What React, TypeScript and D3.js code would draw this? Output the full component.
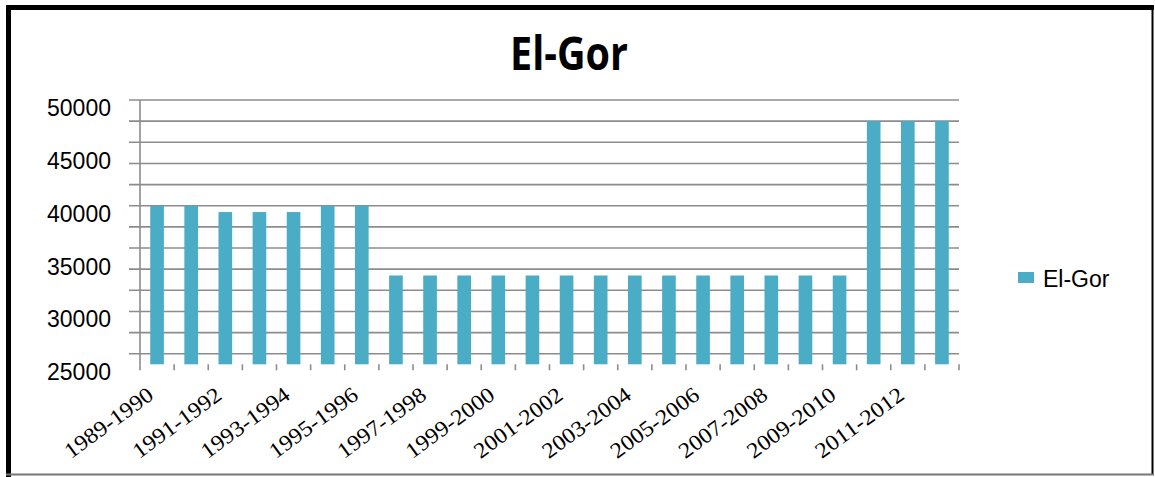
import React from 'react';
import * as d3 from 'd3';

const categories = [
  '1989-1990', '1990-1991', '1991-1992', '1992-1993', '1993-1994', '1994-1995',
  '1995-1996', '1996-1997', '1997-1998', '1998-1999', '1999-2000', '2000-2001',
  '2001-2002', '2002-2003', '2003-2004', '2004-2005', '2005-2006', '2006-2007',
  '2007-2008', '2008-2009', '2009-2010', '2010-2011', '2011-2012', '2012-2013',
];
const values = [
  40000, 40000, 39400, 39400, 39400, 40000, 40000,
  33400, 33400, 33400, 33400, 33400, 33400, 33400,
  33400, 33400, 33400, 33400, 33400, 33400, 33400,
  48000, 48000, 48000,
];
const yTickLabels = [25000, 30000, 35000, 40000, 45000, 50000];
const title = 'El-Gor';
const seriesName = 'El-Gor';

const BAR = '#4BACC6';
const GRID = '#8c8c8c';

export default function App() {
  const W = 1155;
  const H = 477;
  const left = 140;
  const right = 959;
  const top = 100;
  const bottom = 364.3;

  const x = d3.scaleBand<string>().domain(categories).range([left, right]).paddingInner(0.6).paddingOuter(0.3);
  const y = d3.scaleLinear().domain([25000, 50000]).range([bottom, top]);
  const grid = y.ticks(10);
  const step = x.step();
  const bw = x.bandwidth();

  return (
    <svg width={W} height={H} style={{ position: 'absolute', left: 0, top: 0, background: '#fff' }}>
      <rect x={0} y={0} width={W} height={H} fill="#fff" />
      {/* border */}
      <line x1={6} y1={7.5} x2={1154} y2={7.5} stroke="#000" strokeWidth={5} />
      <line x1={8.5} y1={5} x2={8.5} y2={477} stroke="#000" strokeWidth={5} />
      <line x1={1152.5} y1={5} x2={1152.5} y2={475} stroke="#000" strokeWidth={2} />
      <line x1={6} y1={474.5} x2={1154} y2={474.5} stroke="#777" strokeWidth={2} />

      {/* title */}
      <text x={569} y={70} textAnchor="middle" fontFamily="'Open Sans', 'Noto Sans', sans-serif" fontWeight="bold" fontSize={46} textLength={118} lengthAdjust="spacingAndGlyphs" fill="#000">{title}</text>

      {/* gridlines */}
      {grid.map((t) => (
        <line key={'g' + t} x1={left - 11} x2={right} y1={y(t)} y2={y(t)} stroke={GRID} strokeWidth={1.6} />
      ))}
      {/* y axis */}
      <line x1={left} x2={left} y1={top} y2={bottom} stroke={GRID} strokeWidth={1.6} />
      {/* x axis ticks */}
      {d3.range(categories.length + 1).map((i) => (
        <line key={'xt' + i} x1={left + i * step} x2={left + i * step} y1={bottom} y2={bottom + 6} stroke={GRID} strokeWidth={1.6} />
      ))}

      {/* bars */}
      {categories.map((c, i) => (
        <rect key={c} x={x(c)} y={y(values[i])} width={bw} height={bottom - y(values[i])} fill={BAR} />
      ))}

      {/* y labels */}
      {yTickLabels.map((t) => (
        <text key={'yl' + t} x={111} y={y(t) + 8} textAnchor="end" dominantBaseline="central" fontFamily="'Liberation Sans', Arial, sans-serif" fontSize={23} fill="#000">{t}</text>
      ))}

      {/* x labels */}
      {categories.map((c, i) =>
        i % 2 === 0 ? (
          <text key={'xl' + c} transform={`translate(${(x(c) as number) + bw / 2 - 2},398) rotate(-36)`} textAnchor="end" fontFamily="'Liberation Serif', 'DejaVu Serif', serif" fontSize={22} textLength={104} lengthAdjust="spacingAndGlyphs" fill="#000">{c}</text>
        ) : null
      )}

      {/* legend */}
      <rect x={1018} y={272} width={16} height={11} fill={BAR} />
      <text x={1043} y={287} fontFamily="'Liberation Sans', Arial, sans-serif" fontSize={23} fill="#000">{seriesName}</text>
    </svg>
  );
}
